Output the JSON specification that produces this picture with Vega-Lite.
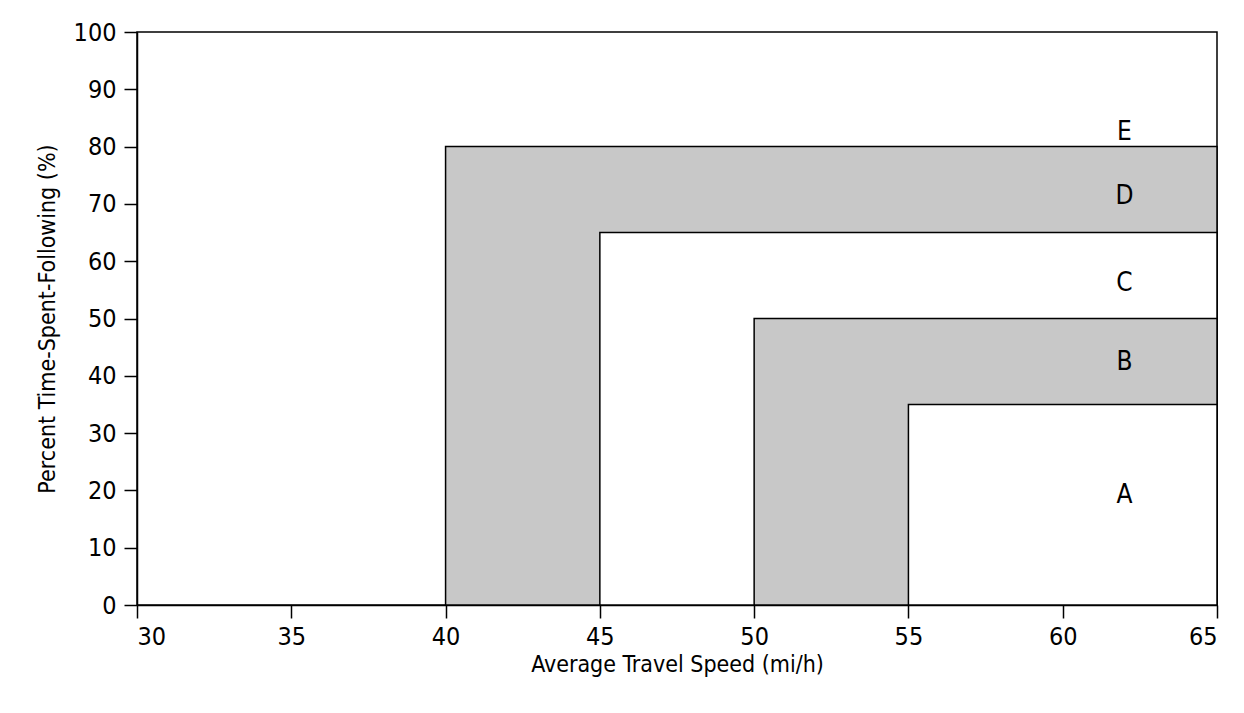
{
  "$schema": "https://vega.github.io/schema/vega-lite/v6.json",
  "width": 1080,
  "height": 573,
  "autosize": "none",
  "padding": {"left": 137, "top": 32, "right": 27, "bottom": 108},
  "background": "white",
  "config": {
    "view": {"stroke": "black", "strokeWidth": 1.5},
    "font": "DejaVu Sans Condensed",
    "axis": {
      "domainColor": "black", "domainWidth": 1.5, "tickColor": "black", "tickWidth": 1.5,
      "tickSize": 13, "labelFontSize": 25, "labelColor": "black", "titleFontSize": 23,
      "titleFontWeight": "normal", "titleColor": "black", "grid": false,
      "labelFont": "DejaVu Sans Condensed", "titleFont": "DejaVu Sans Condensed"
    }
  },
  "datasets": {
    "regions": [
      {"level": "D", "x1": 40, "x2": 65, "y1": 0, "y2": 80, "shade": "gray"},
      {"level": "C", "x1": 45, "x2": 65, "y1": 0, "y2": 65, "shade": "white"},
      {"level": "B", "x1": 50, "x2": 65, "y1": 0, "y2": 50, "shade": "gray"},
      {"level": "A", "x1": 55, "x2": 65, "y1": 0, "y2": 35, "shade": "white"}
    ],
    "labels": [
      {"label": "E", "x": 62, "y": 82.5},
      {"label": "D", "x": 62, "y": 71.4},
      {"label": "C", "x": 62, "y": 56.2},
      {"label": "B", "x": 62, "y": 42.4},
      {"label": "A", "x": 62, "y": 19.2}
    ]
  },
  "layer": [
    {
      "data": {"name": "regions"},
      "mark": {"type": "rect", "stroke": "black", "strokeWidth": 1.5},
      "encoding": {
        "x": {"field": "x1", "type": "quantitative", "scale": {"domain": [30, 65], "nice": false},
              "axis": {"values": [30, 35, 40, 45, 50, 55, 60, 65], "title": "Average Travel Speed (mi/h)", "labelPadding": 6, "titlePadding": 4}},
        "x2": {"field": "x2"},
        "y": {"field": "y1", "type": "quantitative", "scale": {"domain": [0, 100], "nice": false},
              "axis": {"values": [0, 10, 20, 30, 40, 50, 60, 70, 80, 90, 100], "title": "Percent Time-Spent-Following (%)", "labelPadding": 8, "titlePadding": 14}},
        "y2": {"field": "y2"},
        "fill": {"field": "shade", "type": "nominal", "scale": {"domain": ["gray", "white"], "range": ["#c8c8c8", "#ffffff"]}, "legend": null}
      }
    },
    {
      "data": {"name": "labels"},
      "mark": {"type": "text", "fontSize": 26, "color": "black", "font": "DejaVu Sans Condensed"},
      "encoding": {
        "x": {"field": "x", "type": "quantitative"},
        "y": {"field": "y", "type": "quantitative"},
        "text": {"field": "label"}
      }
    }
  ]
}
